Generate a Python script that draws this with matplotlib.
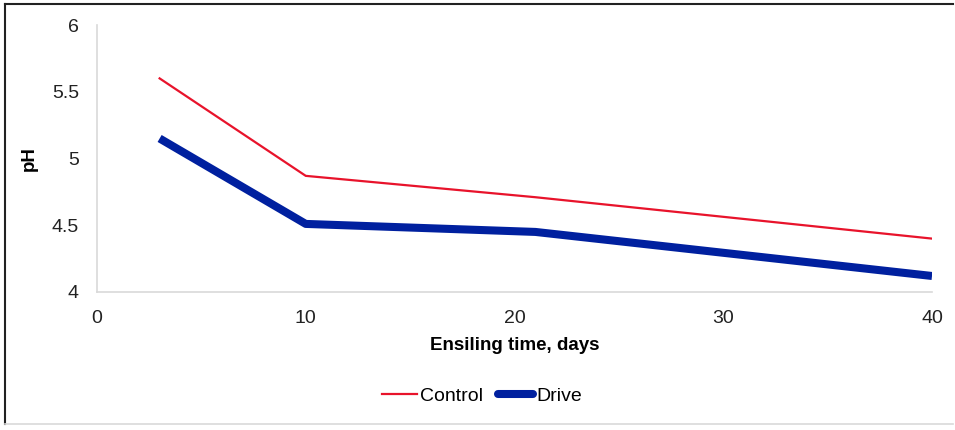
import matplotlib
matplotlib.use("Agg")
import matplotlib.pyplot as plt
from matplotlib.lines import Line2D

days = [3, 10, 21, 40]
control = [5.60, 4.87, 4.71, 4.40]
drive = [5.15, 4.51, 4.45, 4.12]
xticks = [0, 10, 20, 30, 40]
yticks = [4, 4.5, 5, 5.5, 6]
ytick_labels = ["4", "4.5", "5", "5.5", "6"]

plt.rcParams['font.family'] = ['Liberation Sans', 'DejaVu Sans']

fig = plt.figure(figsize=(9.55, 4.30), dpi=100)
ax = fig.add_axes([97/955, 1-292/430, (932-97)/955, (292-25)/430])

red = "#E8132B"
navy = "#00209F"
ax.plot(days, control, color=red, lw=1.6, label="Control", solid_joinstyle="miter")
ax.plot(days, drive, color=navy, lw=5.8, label="Drive", solid_capstyle="butt", solid_joinstyle="round")

ax.set_xlim(0, 40)
ax.set_ylim(4, 6)
ax.set_xticks(xticks)
ax.set_yticks(yticks)
ax.set_yticklabels(ytick_labels)
ax.tick_params(length=0, labelsize=14, colors="#222222")
ax.tick_params(axis='x', pad=13)
ax.tick_params(axis='y', pad=13)
for s in ["top", "right"]:
    ax.spines[s].set_visible(False)
for s in ["left", "bottom"]:
    ax.spines[s].set_color("#D9D9D9")
    ax.spines[s].set_linewidth(1.2)

ax.set_xlabel("Ensiling time, days", fontsize=13.5, fontweight="bold", labelpad=7)
ax.set_ylabel("pH", fontsize=13.5, fontweight="bold", labelpad=10)

handles = [Line2D([], [], color=red, lw=1.6),
           Line2D([], [], color=navy, lw=5.8, solid_capstyle="round")]
leg = fig.legend(handles, ["Control", "Drive"], loc="center", bbox_to_anchor=(482/955, 1-396/430),
                 ncol=2, frameon=False, fontsize=14, handlelength=1.8, handletextpad=0.15,
                 columnspacing=0.8)

# outer frame
fig.add_artist(Line2D([4.5/955, 4.5/955], [1-4/430, 1-424/430], color="#222222", lw=1.5, transform=fig.transFigure))
fig.add_artist(Line2D([4.5/955, 953/955], [1-4/430, 1-4/430], color="#222222", lw=1.5, transform=fig.transFigure))
fig.add_artist(Line2D([4.5/955, 953/955], [1-423.5/430, 1-423.5/430], color="#D9D9D9", lw=1.2, transform=fig.transFigure))

fig.savefig("out.png", dpi=100)
